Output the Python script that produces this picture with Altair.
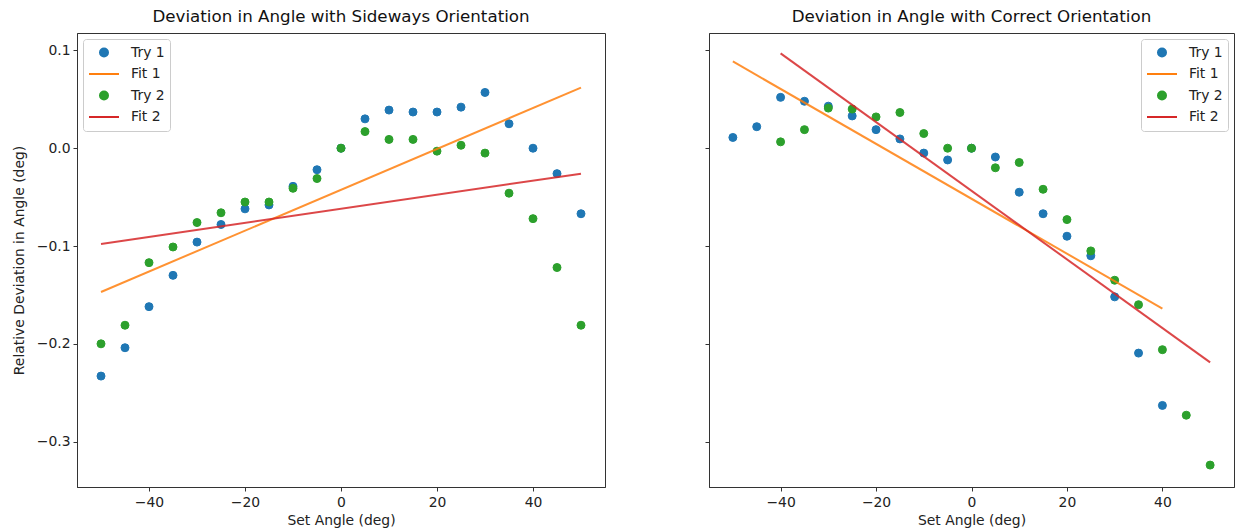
import altair as alt
import pandas as pd

# ---------------- data ----------------
series = ["Try 1", "Fit 1", "Try 2", "Fit 2"]
colors = ["#1f77b4", "#ff7f0e", "#2ca02c", "#d62728"]

left_x = [-50, -45, -40, -35, -30, -25, -20, -15, -10, -5, 0,
          5, 10, 15, 20, 25, 30, 35, 40, 45, 50]
left_try1 = [-0.233, -0.204, -0.162, -0.130, -0.096, -0.078, -0.062, -0.058, -0.039, -0.022, 0.0,
             0.030, 0.039, 0.037, 0.037, 0.042, 0.057, 0.025, 0.0, -0.026, -0.067]
left_try2 = [-0.200, -0.181, -0.117, -0.101, -0.076, -0.066, -0.055, -0.055, -0.041, -0.031, 0.0,
             0.017, 0.009, 0.009, -0.003, 0.003, -0.005, -0.046, -0.072, -0.122, -0.181]
left_fit1_x = [-50, 50]
left_fit1 = [-0.147, 0.062]
left_fit2_x = [-50, 50]
left_fit2 = [-0.098, -0.026]

right_try1_x = [-50, -45, -40, -35, -30, -25, -20, -15, -10, -5, 0,
                5, 10, 15, 20, 25, 30, 35, 40]
right_try1 = [0.011, 0.022, 0.052, 0.048, 0.043, 0.033, 0.019, 0.0095, -0.005, -0.012, 0.0,
              -0.009, -0.045, -0.067, -0.090, -0.110, -0.152, -0.2095, -0.263]
right_try2_x = [-40, -35, -30, -25, -20, -15, -10, -5, 0,
                5, 10, 15, 20, 25, 30, 35, 40, 45, 50]
right_try2 = [0.0065, 0.019, 0.041, 0.040, 0.032, 0.0365, 0.015, 0.0, 0.0,
              -0.020, -0.0146, -0.042, -0.073, -0.105, -0.135, -0.160, -0.206, -0.273, -0.324]
right_fit1_x = [-50, 40]
right_fit1 = [0.0887, -0.164]
right_fit2_x = [-40, 50]
right_fit2 = [0.097, -0.219]

x_ticks = [-40, -20, 0, 20, 40]
y_ticks = [-0.3, -0.2, -0.1, 0.0, 0.1]
x_domain = [-55, 55]
y_domain = [-0.3464, 0.1178]

FONT = "DejaVu Sans"


def frame(xs, ys, name):
    return pd.DataFrame({"x": xs, "y": ys, "series": name})


def panel(pts, lns, title, orient, show_y, width):
    x = alt.X("x:Q", scale=alt.Scale(domain=x_domain, nice=False, zero=False),
              axis=alt.Axis(values=x_ticks, format="d", title="Set Angle (deg)",
                            titlePadding=5, labelPadding=4))
    if show_y:
        yaxis = alt.Axis(values=y_ticks, format=".1f",
                         title="Relative Deviation in Angle (deg)", titlePadding=10)
    else:
        yaxis = alt.Axis(values=y_ticks, labels=False, title=None)
    y = alt.Y("y:Q", scale=alt.Scale(domain=y_domain, nice=False, zero=False), axis=yaxis)
    leg = alt.Legend(title=None, orient=orient, offset=6, fillColor="white",
                     strokeColor="#cccccc", cornerRadius=3, padding=5,
                     symbolStrokeWidth=2, labelFontSize=13.9, labelFont=FONT,
                     labelColor="#222222", rowPadding=4.5, labelOffset=11, clipHeight=17)
    points = alt.Chart(pts).mark_point(filled=True, opacity=1, strokeWidth=1).encode(
        x=x, y=y,
        fill=alt.Fill("series:N", scale=alt.Scale(domain=series, range=colors), legend=leg),
        stroke=alt.Stroke("series:N", scale=alt.Scale(domain=series, range=colors), legend=leg),
        shape=alt.Shape("series:N", scale=alt.Scale(domain=series,
                        range=["circle", "stroke", "circle", "stroke"]), legend=leg),
        size=alt.Size("series:N", scale=alt.Scale(type="ordinal", domain=series,
                      range=[64, 900, 64, 900]), legend=leg),
    )
    lines = alt.Chart(lns).mark_line(strokeWidth=2, opacity=0.85).encode(
        x=x, y=y,
        color=alt.Color("series:N", scale=alt.Scale(domain=series, range=colors), legend=None),
        detail="series:N",
    )
    return alt.layer(points, lines).properties(
        width=width, height=454,
        title=alt.TitleParams(title, fontSize=16.7, fontWeight="normal", font=FONT,
                              color="#111111", offset=7),
    )


left_pts = pd.concat([frame(left_x, left_try1, "Try 1"), frame(left_x, left_try2, "Try 2")])
left_lns = pd.concat([frame(left_fit1_x, left_fit1, "Fit 1"), frame(left_fit2_x, left_fit2, "Fit 2")])
right_pts = pd.concat([frame(right_try1_x, right_try1, "Try 1"), frame(right_try2_x, right_try2, "Try 2")])
right_lns = pd.concat([frame(right_fit1_x, right_fit1, "Fit 1"), frame(right_fit2_x, right_fit2, "Fit 2")])

left = panel(left_pts, left_lns, "Deviation in Angle with Sideways Orientation", "top-left", True, 528)
right = panel(right_pts, right_lns, "Deviation in Angle with Correct Orientation", "top-right", False, 525)

chart = alt.hconcat(left, right, spacing=98).resolve_scale(
    fill="independent", stroke="independent", shape="independent",
    size="independent", color="independent",
).resolve_legend(
    fill="independent", stroke="independent", shape="independent",
    size="independent", color="independent",
).configure(
    padding={"left": 11, "top": 8, "right": 0, "bottom": 0},
    background="white",
).configure_view(
    stroke="#333333", strokeWidth=1,
).configure_axis(
    grid=False, domainColor="#333333", tickColor="#333333", tickSize=4,
    labelColor="#222222", titleColor="#222222", labelFont=FONT, titleFont=FONT,
    labelFontSize=13.9, titleFontSize=13.9, titleFontWeight="normal", labelPadding=3,
)

chart.save("out.html", embed_options={"renderer": "svg", "actions": False})
